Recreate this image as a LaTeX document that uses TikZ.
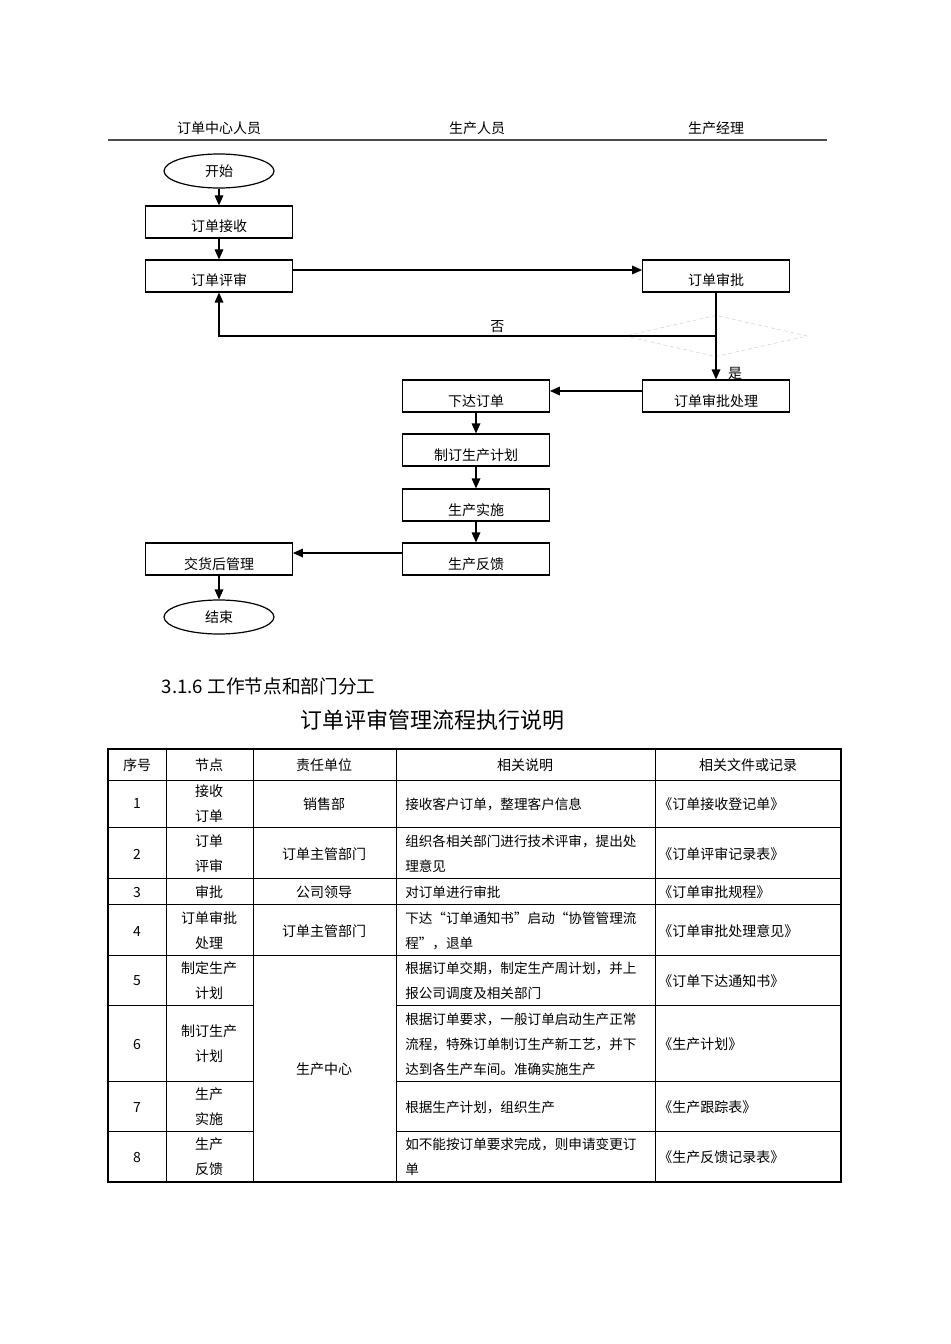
\documentclass[tikz,border=0pt]{standalone}
\usepackage{fontspec}
\setmainfont{Noto Sans CJK SC}
\usetikzlibrary{arrows.meta,shapes.geometric}

\begin{document}
\begin{tikzpicture}[
  x=0.75pt, y=-0.75pt,
  font=\fontsize{10.5}{18.75}\selectfont,
  stepbox/.style={rectangle, draw, line width=0.9pt, minimum width=110pt,
    minimum height=24pt, inner sep=0pt, text height=15pt, text depth=0pt},
  terminal/.style={ellipse, draw, line width=0.9pt, minimum width=82.5pt,
    minimum height=25.5pt, inner sep=0pt},
  decision/.style={diamond, draw=gray!35, densely dashed, aspect=4.5,
    minimum width=137pt, minimum height=31pt, inner sep=0pt},
  flow/.style={-{Triangle[length=7.5pt,width=6.5pt]}, line width=0.9pt},
  cell/.style={inner sep=0pt, align=center},
  lcell/.style={inner sep=0pt, align=left, anchor=west},
  ]
\useasboundingbox (0,0) rectangle (950,1344);

% swim lane header
\node (lane1) at (219,128) {订单中心人员};
\node (lane2) at (477,128) {生产人员};
\node (lane3) at (716,128) {生产经理};
\draw[line width=1.5pt, gray!60!black] (108,140) -- (827,140);

% flow
\node[terminal] (start) at (219,171) {开始};
\node[stepbox] (receive) at (219,222) {订单接收};
\node[stepbox] (review) at (219,276) {订单评审};
\node[stepbox] (approve) at (716,276) {订单审批};
\node[decision] (check) at (716,336) {};
\node[stepbox] (handle) at (716,396) {订单审批处理};
\node[stepbox] (issue) at (476,396) {下达订单};
\node[stepbox] (plan) at (476,450) {制订生产计划};
\node[stepbox] (make) at (476,505) {生产实施};
\node[stepbox] (feedback) at (476,559) {生产反馈};
\node[stepbox] (after) at (219,559) {交货后管理};
\node[terminal] (stop) at (219,617) {结束};
\node (yes) at (735,373) {是};

\draw[flow] (start) -- (receive);
\draw[flow] (receive) -- (review);
\draw[flow] ([yshift=4.5pt]review.east) -- ([yshift=4.5pt]approve.west);
\draw[flow] (approve) -- (handle);
\draw[flow] (check.center) -| node[pos=0.22, above=-1pt] (no) {否} (review);
\draw[flow] ([yshift=3.75pt]handle.west) -- ([yshift=3.75pt]issue.east);
\draw[flow] (issue) -- (plan);
\draw[flow] (plan) -- (make);
\draw[flow] (make) -- (feedback);
\draw[flow] ([yshift=4.5pt]feedback.west) -- ([yshift=4.5pt]after.east);
\draw[flow] (after) -- (stop);

% table
\node[anchor=west, font=\fontsize{14}{16}\selectfont] (sec) at (157,686) {3.1.6 工作节点和部门分工};
\node[font=\fontsize{16.5}{18}\selectfont] (title) at (432,720) {订单评审管理流程执行说明};

\foreach \y in {780,827,878,904,955}
  \draw[line width=0.6pt] (108,\y) -- (841,\y);
\foreach \y in {1005,1081,1131} {
  \draw[line width=0.6pt] (108,\y) -- (253,\y);
  \draw[line width=0.6pt] (396,\y) -- (841,\y);
}
\foreach \x in {166,253,396,655}
  \draw[line width=0.6pt] (\x,749) -- (\x,1182);
\draw[line width=1.2pt] (108,749) rectangle (841,1182);

\node[cell] (h1) at (137,765) {序号};
\node[cell] (h2) at (209,765) {节点};
\node[cell] (h3) at (324,765) {责任单位};
\node[cell] (h4) at (525,765) {相关说明};
\node[cell] (h5) at (748,765) {相关文件或记录};

\foreach \r/\ry/\nd/\desc/\doc in {
  1/804/{接收\\订单}/{接收客户订单，整理客户信息}/{《订单接收登记单》},
  2/854/{订单\\评审}/{组织各相关部门进行技术评审，提出处\\理意见}/{《订单评审记录表》},
  3/892/{审批}/{对订单进行审批}/{《订单审批规程》},
  4/931/{订单审批\\处理}/{下达“订单通知书”启动“协管管理流\\程”，退单}/{《订单审批处理意见》},
  5/981/{制定生产\\计划}/{根据订单交期，制定生产周计划，并上\\报公司调度及相关部门}/{《订单下达通知书》},
  6/1044/{制订生产\\计划}/{根据订单要求，一般订单启动生产正常\\流程，特殊订单制订生产新工艺，并下\\达到各生产车间。准确实施生产}/{《生产计划》},
  7/1107/{生产\\实施}/{根据生产计划，组织生产}/{《生产跟踪表》},
  8/1157/{生产\\反馈}/{如不能按订单要求完成，则申请变更订\\单}/{《生产反馈记录表》}} {
  \node[cell] (seq\r) at (137,\ry) {\r};
  \node[cell] (nd\r) at (209,\ry) {\nd};
  \node[lcell, font=\fontsize{10.2}{18.75}\selectfont] (desc\r) at (405,\ry) {\desc};
  \node[lcell] (doc\r) at (658,\ry) {\doc};
}

\node[cell] (unit1) at (324,804) {销售部};
\node[cell] (unit2) at (324,854) {订单主管部门};
\node[cell] (unit3) at (324,892) {公司领导};
\node[cell] (unit4) at (324,931) {订单主管部门};
\node[cell] (unit5) at (324,1069) {生产中心};
\end{tikzpicture}
\end{document}
